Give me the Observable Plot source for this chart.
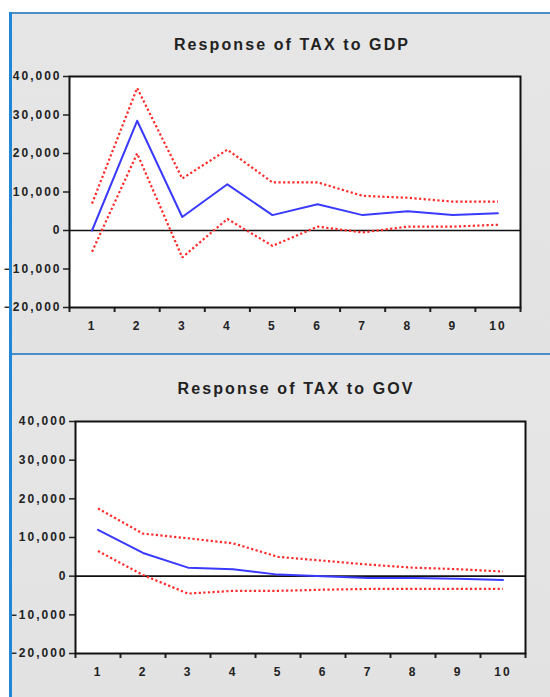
<!DOCTYPE html>
<html>
<head>
<meta charset="utf-8">
<script src="https://cdn.jsdelivr.net/npm/d3@7"></script>
<script src="https://cdn.jsdelivr.net/npm/@observablehq/plot@0.6"></script>
<style>
  html, body { margin: 0; padding: 0; background: #ffffff; }
  #root { position: relative; width: 550px; height: 697px; overflow: hidden; background: #ffffff; font-family: "Liberation Sans", Arial, sans-serif; }
  .panel { position: absolute; left: 10px; width: 540px; background: linear-gradient(#e6e6e6, #e2e2e2); }
  .title { position: absolute; width: 550px; text-align: center; font-size: 16px; font-weight: bold; letter-spacing: 2.1px; color: #222; }
  .chart { position: absolute; left: 0; }
  .vline { position: absolute; left: 9px; top: 12px; width: 3px; height: 685px; background: #1f86d8; }
  .hline { position: absolute; left: 10px; width: 540px; height: 2px; background: #4a8dc8; }
</style>
</head>
<body>
<div id="root">
  <div class="panel" style="top:12px;height:341px"></div>
  <div class="panel" style="top:355px;height:342px"></div>
  <div class="title" style="top:36px;left:17px">Response of TAX to GDP</div>
  <div class="title" style="top:380px;left:21px">Response of TAX to GOV</div>
  <div class="chart" id="c1" style="top:60px"></div>
  <div class="chart" id="c2" style="top:400px"></div>
  <div class="hline" style="top:12px"></div>
  <div class="hline" style="top:353px"></div>
  <div class="vline"></div>
</div>
<script>
const periods = [1, 2, 3, 4, 5, 6, 7, 8, 9, 10];
const yTicks = [-20000, -10000, 0, 10000, 20000, 30000, 40000];

// Response of TAX to GDP
const gdpResponse = [0, 28500, 3500, 12000, 4000, 6800, 4000, 5000, 4000, 4500];
const gdpUpper    = [7000, 37000, 13500, 21000, 12500, 12500, 9000, 8500, 7500, 7500];
const gdpLower    = [-5500, 20000, -7000, 3000, -4000, 1000, -500, 1000, 1000, 1500];

// Response of TAX to GOV
const govResponse = [12000, 6000, 2200, 1800, 400, 0, -500, -500, -700, -1000];
const govUpper    = [17500, 11000, 9800, 8500, 5000, 4000, 3000, 2200, 1800, 1200];
const govLower    = [6500, 300, -4500, -3800, -3800, -3500, -3300, -3300, -3300, -3300];

function rows(vals) { return periods.map((p, i) => ({x: p, y: vals[i]})); }

function panel(resp, up, lo, m) {
  const halfTicks = d3.range(0.5, 11, 1);
  const dotted = {x: "x", y: "y", stroke: "#ff2a2a", strokeWidth: 2.2, strokeDasharray: "2.2,2.4", strokeLinecap: "butt", strokeLinejoin: "miter"};
  return Plot.plot({
    width: 550, height: 290,
    marginLeft: m.left, marginRight: m.right, marginTop: m.top, marginBottom: m.bottom,
    style: {background: "transparent", fontFamily: "'Liberation Sans', Arial, sans-serif", fontSize: "12px", fontWeight: "bold", color: "#222", letterSpacing: "2px"},
    x: {domain: [0.5, 10.5]},
    y: {domain: [-20000, 40000]},
    marks: [
      Plot.frame({fill: "white", stroke: "none"}),
      Plot.ruleY([0], {stroke: "#111", strokeWidth: 1.6}),
      Plot.line(rows(up), dotted),
      Plot.line(rows(lo), dotted),
      Plot.line(rows(resp), {x: "x", y: "y", stroke: "#3a3aff", strokeWidth: 2}),
      Plot.axisY({ticks: yTicks, tickFormat: d3.format(","), tickSize: 6, tickPadding: 2, label: null, strokeWidth: 1.5}),
      Plot.axisX({ticks: periods, tickSize: 0, tickPadding: 14, label: null}),
      Plot.axisX({ticks: halfTicks, tickFormat: () => "", tickSize: 5, label: null, strokeWidth: 2}),
      Plot.frame({stroke: "#111", strokeWidth: 2})
    ]
  });
}

document.getElementById("c1").appendChild(panel(gdpResponse, gdpUpper, gdpLower, {left: 69, right: 30, top: 16, bottom: 43}));
document.getElementById("c2").appendChild(panel(govResponse, govUpper, govLower, {left: 75, right: 25, top: 21, bottom: 37}));
</script>
</body>
</html>
